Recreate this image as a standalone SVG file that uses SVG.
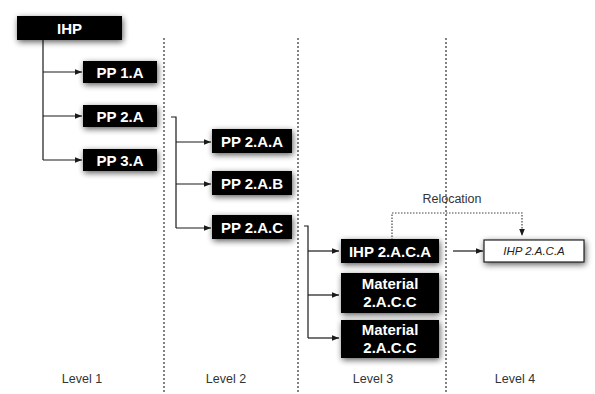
<svg xmlns="http://www.w3.org/2000/svg" width="595" height="394" viewBox="0 0 595 394">
<defs>
<filter id="glow" x="-30%" y="-60%" width="160%" height="220%">
<feGaussianBlur in="SourceAlpha" stdDeviation="3"/>
<feOffset dx="0.5" dy="1.5" result="b"/>
<feComponentTransfer><feFuncA type="linear" slope="0.65"/></feComponentTransfer>
<feMerge><feMergeNode/><feMergeNode in="SourceGraphic"/></feMerge>
</filter>
<marker id="ah" viewBox="0 0 10 10" refX="10" refY="5" markerWidth="7" markerHeight="7" orient="auto" markerUnits="userSpaceOnUse">
<path d="M0,1 L10,5 L0,9 z" fill="#1a1a1a"/>
</marker>
</defs>
<style>
.box{fill:#000;filter:url(#glow)}
.wbox{fill:#fff;stroke:#222;stroke-width:1.2;filter:url(#glow)}
.t{font-family:"Liberation Sans",Arial,sans-serif;font-weight:bold;font-size:15px;fill:#fff;text-anchor:middle}
.ti{font-family:"Liberation Sans",Arial,sans-serif;font-style:italic;font-size:11.5px;fill:#222;text-anchor:middle}
.lbl{font-family:"Liberation Sans",Arial,sans-serif;font-size:12.5px;fill:#333;text-anchor:middle}
.c{fill:none;stroke:#1a1a1a;stroke-width:1.2}
.ca{fill:none;stroke:#1a1a1a;stroke-width:1.2;marker-end:url(#ah)}
.sep{stroke:#333;stroke-width:1.2;stroke-dasharray:2,2}
.dot{fill:none;stroke:#444;stroke-width:1.2;stroke-dasharray:1.5,1.5}
</style>
<g id="separators">
<line class="sep" x1="164" y1="38" x2="164" y2="394"/>
<line class="sep" x1="298" y1="38" x2="298" y2="394"/>
<line class="sep" x1="446" y1="38" x2="446" y2="394"/>
</g>
<g id="connectors">
<path class="c" d="M43,40 V160"/>
<path class="ca" d="M43,72 H82"/>
<path class="ca" d="M43,116 H82"/>
<path class="ca" d="M43,160 H82"/>
<path class="c" d="M171,117 H176 V228"/>
<path class="ca" d="M176,142 H211"/>
<path class="ca" d="M176,184 H211"/>
<path class="ca" d="M176,228 H211"/>
<path class="c" d="M304,226 H308 V338"/>
<path class="ca" d="M308,251 H339"/>
<path class="ca" d="M308,295 H339"/>
<path class="ca" d="M308,338 H339"/>
<path class="ca" d="M453,251 H483"/>
<path class="dot" d="M392,240 V213 H522 V236" marker-end="url(#ah)"/>
</g>
<g id="n-ihp"><rect class="box" x="17" y="16" width="105" height="24"/><text class="t" x="69.5" y="33.5">IHP</text></g>
<g id="n-pp1a"><rect class="box" x="83" y="61" width="74" height="22"/><text class="t" x="120" y="77.5">PP 1.A</text></g>
<g id="n-pp2a"><rect class="box" x="83" y="105" width="74" height="22"/><text class="t" x="120" y="121.5">PP 2.A</text></g>
<g id="n-pp3a"><rect class="box" x="83" y="149" width="74" height="22"/><text class="t" x="120" y="165.5">PP 3.A</text></g>
<g id="n-pp2aa"><rect class="box" x="212" y="129" width="80" height="24"/><text class="t" x="252" y="146.5">PP 2.A.A</text></g>
<g id="n-pp2ab"><rect class="box" x="212" y="171" width="80" height="24"/><text class="t" x="252" y="188.5">PP 2.A.B</text></g>
<g id="n-pp2ac"><rect class="box" x="212" y="215" width="80" height="24"/><text class="t" x="252" y="232.5">PP 2.A.C</text></g>
<g id="n-ihp2aca"><rect class="box" x="341" y="239" width="98" height="24"/><text class="t" x="390" y="256.5">IHP 2.A.C.A</text></g>
<g id="n-mat1"><rect class="box" x="341" y="273" width="98" height="40"/><text class="t" x="390" y="289">Material</text><text class="t" x="390" y="307">2.A.C.C</text></g>
<g id="n-mat2"><rect class="box" x="341" y="320" width="98" height="38"/><text class="t" x="390" y="335">Material</text><text class="t" x="390" y="353">2.A.C.C</text></g>
<g id="n-ihp2aca-l4"><rect class="wbox" x="484" y="240" width="100" height="22"/><text class="ti" x="534" y="255">IHP 2.A.C.A</text></g>
<text class="lbl" x="452" y="203">Relocation</text>
<text class="lbl" x="82" y="383">Level 1</text>
<text class="lbl" x="226" y="383">Level 2</text>
<text class="lbl" x="373" y="383">Level 3</text>
<text class="lbl" x="515" y="383">Level 4</text>
</svg>
